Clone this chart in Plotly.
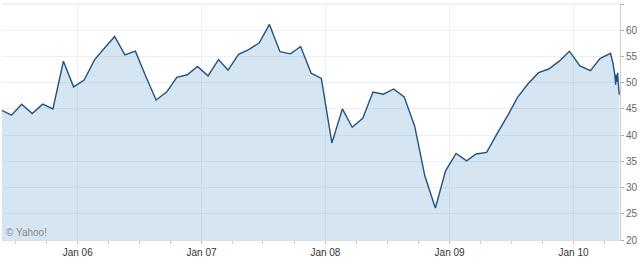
import plotly.graph_objects as go
import pandas as pd

# Monthly closes, dated around the 20th of each month
monthly_start = "2005-05-01"
monthly_values = [
    44.8, 43.8, 45.9, 44.1, 45.9, 45.0, 54.1, 49.2,            # May-Dec 2005
    50.5, 54.4, 56.5, 58.8, 55.3, 56.0, 51.3, 46.7, 48.2, 51.0, 51.5, 53.1,  # 2006
    51.3, 54.4, 52.4, 55.4, 56.3, 57.6, 61.1, 55.9, 55.5, 56.9, 51.8, 50.8,  # 2007
    38.5, 45.0, 41.5, 43.2, 48.2, 47.8, 48.8, 47.3, 41.7, 32.2, 26.1, 33.2,  # 2008
    36.5, 35.1, 36.4, 36.7, 40.2, 43.6, 47.2, 49.8, 51.9, 52.6, 54.1, 56.0,  # 2009
    53.2, 52.3, 54.6, 55.6,                                     # Jan-Apr 2010
]
# Daily tail at the end of the series
tail_dates = ["2010-04-27", "2010-05-03", "2010-05-05", "2010-05-07",
              "2010-05-09", "2010-05-11", "2010-05-13", "2010-05-16"]
tail_values = [53.8, 51.4, 49.6, 51.5, 50.2, 51.9, 49.8, 47.7]

y_ticks = [20, 25, 30, 35, 40, 45, 50, 55, 60, 65]
x_tick_dates = ["2006-01-01", "2007-01-01", "2008-01-01", "2009-01-01", "2010-01-01"]
x_tick_labels = ["Jan 06", "Jan 07", "Jan 08", "Jan 09", "Jan 10"]

monthly_dates = pd.date_range(monthly_start, periods=len(monthly_values), freq="MS") + pd.Timedelta(days=19)
dates = list(monthly_dates.strftime("%Y-%m-%d")) + tail_dates
values = monthly_values + tail_values

fig = go.Figure()
fig.add_trace(go.Scatter(
    x=dates, y=values, mode="lines",
    line=dict(color="#24527f", width=1.4),
    fill="tozeroy", fillcolor="rgba(80,145,200,0.24)",
    hoverinfo="skip",
))

fig.update_layout(
    width=640, height=260,
    margin=dict(l=2, r=16, t=4, b=15),
    paper_bgcolor="white", plot_bgcolor="white",
    showlegend=False,
    font=dict(family="Liberation Sans, Arial, sans-serif", size=10, color="#555"),
    xaxis=dict(
        range=["2005-05-23", "2010-05-18"],
        tickmode="array", tickvals=x_tick_dates, ticktext=x_tick_labels,
        showgrid=True, gridcolor="#ecf0f4", gridwidth=1,
        ticks="outside", ticklen=3, tickcolor="#bbb",
        minor=dict(ticks="outside", ticklen=3, tickcolor="#ccc", dtick="M3",
                   tick0="2005-04-01", showgrid=False),
        showline=True, linecolor="#ddd", linewidth=1,
        tickfont=dict(size=10, color="#333"),
        zeroline=False,
    ),
    yaxis=dict(
        side="right", range=[20, 65],
        tickmode="array", tickvals=y_ticks,
        showgrid=True, gridcolor="#ecf0f4", gridwidth=1,
        ticks="outside", ticklen=3, tickcolor="#aaa",
        showline=True, linecolor="#ccc", linewidth=1,
        tickfont=dict(size=10, color="#666"),
        zeroline=False, mirror=False,
    ),
    shapes=[dict(type="line", xref="paper", yref="paper", x0=0, x1=1, y0=1, y1=1,
                 line=dict(color="#e4e4e4", width=1))],
    annotations=[dict(text="© Yahoo!", xref="paper", yref="paper", x=0.004, y=0.0,
                      xanchor="left", yanchor="bottom", showarrow=False,
                      font=dict(size=10, color="#888"))],
)

fig.write_html("out.html")
